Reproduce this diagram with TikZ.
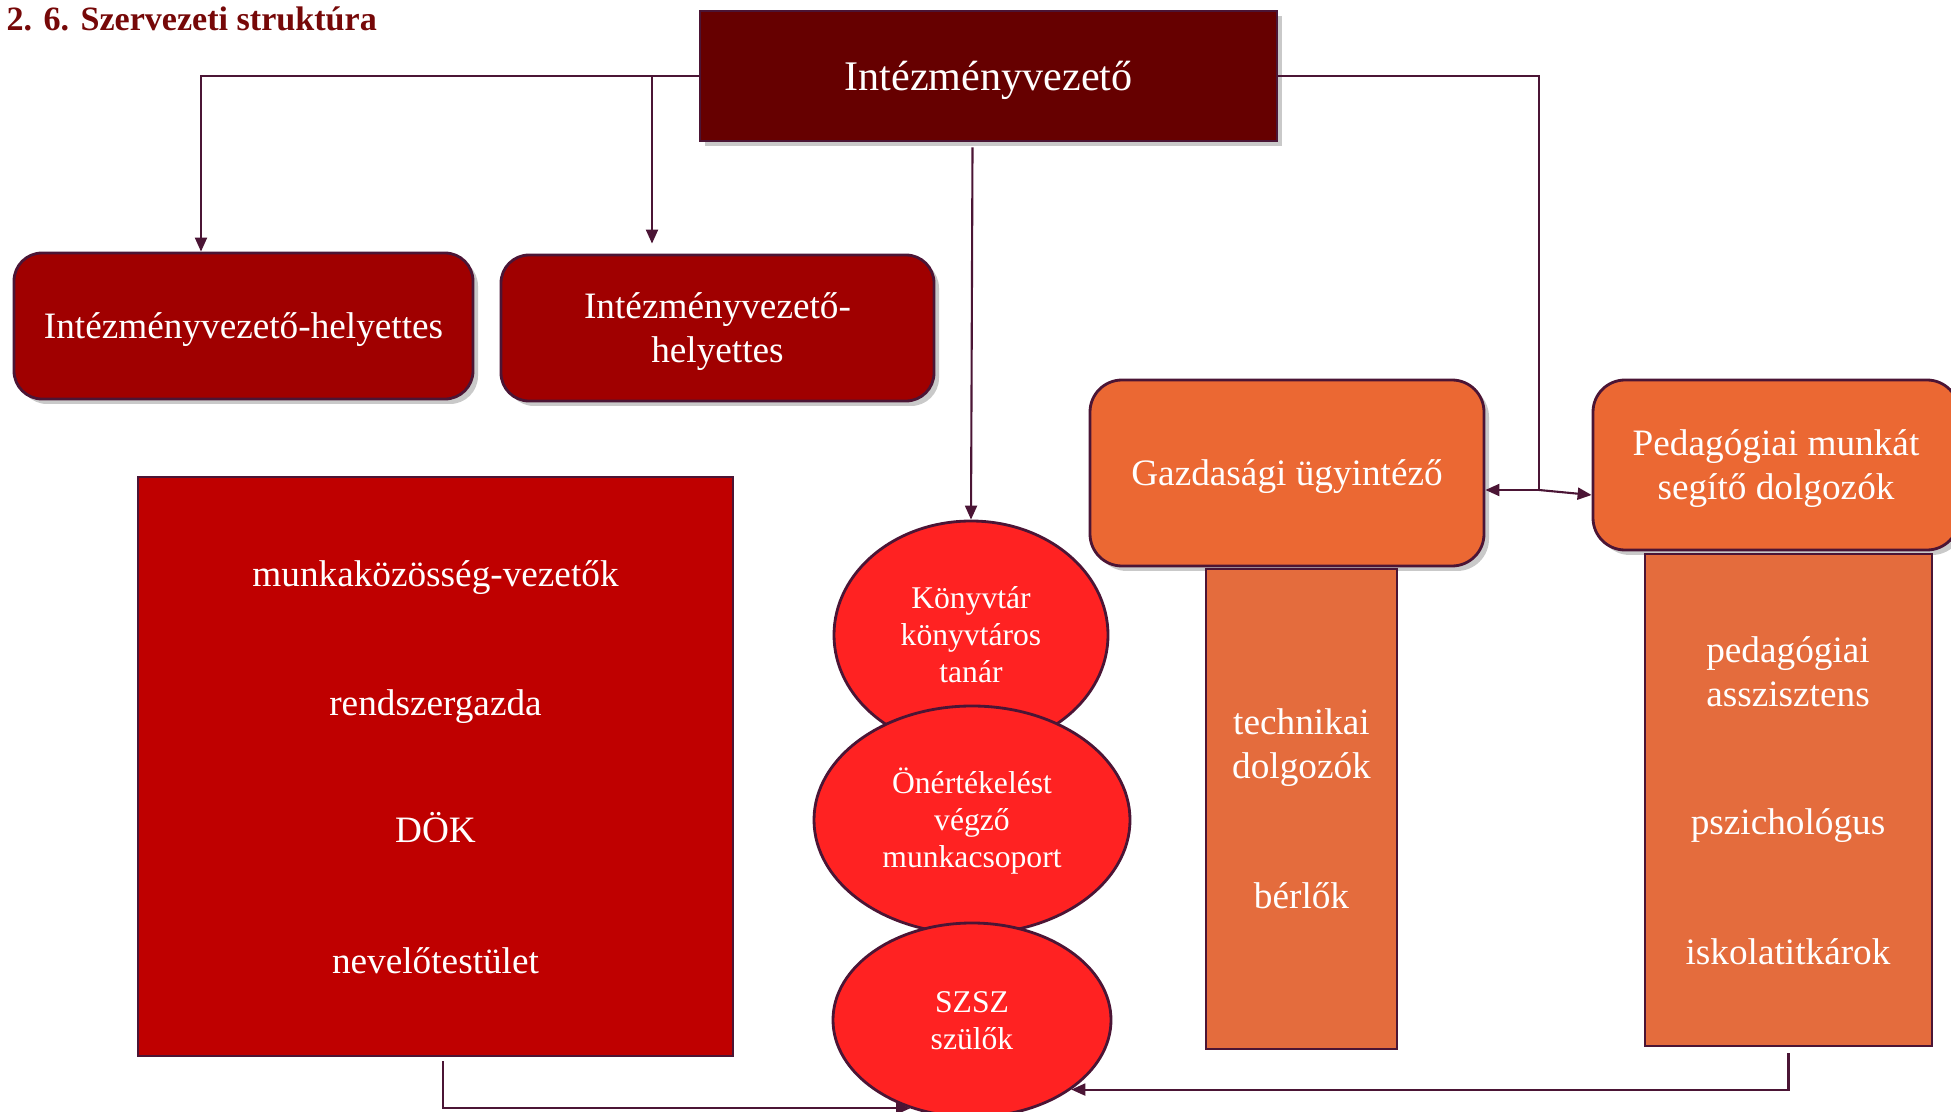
\documentclass[tikz,border=0pt]{standalone}
\usepackage{fontspec}
\setmainfont{Liberation Serif}
\usepackage{tikz}
\usetikzlibrary{arrows.meta,shapes.geometric,shadows}
\definecolor{linecol}{HTML}{4B1535}
\definecolor{headred}{HTML}{660000}
\definecolor{deputyred}{HTML}{A00000}
\definecolor{staffred}{HTML}{BF0000}
\definecolor{circred}{HTML}{FF2222}
\definecolor{orangehead}{HTML}{EB6833}
\definecolor{orangecol}{HTML}{E46C3D}
\definecolor{titlecol}{HTML}{760808}
\newcommand{\linestrut}{\rule[-0.216em]{0pt}{1.107em}}
\tikzset{boxshadow/.style={drop shadow={shadow xshift=0.05cm,shadow yshift=-0.05cm,opacity=0.3,fill=black!70}},
    plainbox/.style={draw=linecol,line width=0.8pt,text=white,inner sep=0pt,align=center},
    headbox/.style={plainbox,fill=headred,boxshadow,font=\fontsize{12}{14}\selectfont},
    deputybox/.style={plainbox,fill=deputyred,rounded corners=0.28cm,boxshadow,
        font=\fontsize{10.6}{12.4}\selectfont},
    orangebox/.style={plainbox,fill=orangehead,rounded corners=0.32cm,boxshadow,
        font=\fontsize{10.6}{12.4}\selectfont},
    listbox/.style={plainbox},
    circlebox/.style={plainbox,ellipse,fill=circred,font=\fontsize{9}{10.6}\selectfont},
    listitem/.style={text=white,align=center,inner sep=0pt,font=\fontsize{10.6}{12.4}\selectfont},
    conn/.style={draw=linecol,line width=0.6pt},
    arr/.style={conn,-{Triangle[length=0.14cm,width=0.12cm]}}}

\begin{document}
\begin{tikzpicture}
\useasboundingbox (0,0) rectangle (19.51,-11.12);
\node[anchor=west,inner sep=0pt,text=titlecol,font=\bfseries\fontsize{9.7}{11.6}\selectfont] (title) at (0.06,-0.19) {2. 6. Szervezeti struktúra};

\node[headbox,minimum width=5.77cm,minimum height=1.30cm] (boss) at (9.885,-0.76) {\linestrut Intézményvezető};
\node[deputybox,minimum width=4.59cm,minimum height=1.46cm] (deputyA) at (2.435,-3.26) {\linestrut Intézményvezető-helyettes};
\node[deputybox,minimum width=4.33cm,minimum height=1.46cm] (deputyB) at (7.175,-3.28) {\linestrut Intézményvezető-\\\linestrut helyettes};
\node[orangebox,minimum width=3.94cm,minimum height=1.86cm] (finance) at (12.87,-4.73) {\linestrut Gazdasági ügyintéző};
\node[orangebox,minimum width=3.66cm,minimum height=1.70cm] (support) at (17.76,-4.65) {\linestrut Pedagógiai munkát\\\linestrut segítő dolgozók};

\node[listbox,fill=staffred,minimum width=5.95cm,minimum height=5.79cm] (staff) at (4.355,-7.665) {};
\node[listitem] (leaders) at (4.355,-5.74) {\linestrut munkaközösség-vezetők};
\node[listitem] (sysadmin) at (4.355,-7.03) {\linestrut rendszergazda};
\node[listitem] (dok) at (4.355,-8.30) {\linestrut DÖK};
\node[listitem] (teachers) at (4.355,-9.61) {\linestrut nevelőtestület};

\node[listbox,fill=orangecol,minimum width=1.91cm,minimum height=4.80cm] (tech) at (13.015,-8.09) {};
\node[listitem] (techstaff) at (13.015,-7.44) {\linestrut technikai\\\linestrut dolgozók};
\node[listitem] (tenants) at (13.015,-8.96) {\linestrut bérlők};

\node[listbox,fill=orangecol,minimum width=2.87cm,minimum height=4.92cm] (assist) at (17.885,-8.00) {};
\node[listitem] (assistant) at (17.88,-6.72) {\linestrut pedagógiai\\\linestrut asszisztens};
\node[listitem] (psych) at (17.88,-8.22) {\linestrut pszichológus};
\node[listitem] (secretary) at (17.88,-9.52) {\linestrut iskolatitkárok};

\node[circlebox,minimum width=2.74cm,minimum height=2.28cm] (library) at (9.71,-6.35) {\linestrut Könyvtár\\\linestrut könyvtáros\\\linestrut tanár};
\node[circlebox,minimum width=3.16cm,minimum height=2.28cm] (selfeval) at (9.72,-8.20) {\linestrut Önértékelést\\\linestrut végző\\\linestrut munkacsoport};
\node[circlebox,minimum width=2.78cm,minimum height=1.94cm] (parents) at (9.72,-10.20) {\linestrut SZSZ\\\linestrut szülők};

\draw[arr] (boss.west) -| ([xshift=-0.425cm]deputyA.north);
\draw[arr] ([xshift=-0.655cm]deputyB.north |- boss.west) -- ([xshift=-0.655cm,yshift=0.1cm]deputyB.north);
\draw[arr] ([xshift=-0.16cm,yshift=-0.05cm]boss.south) -- (library.north);
\coordinate (fork) at (15.39,-4.90);
\draw[conn] (boss.east) -| (fork);
\draw[arr] (fork) -- (finance.east |- fork);
\draw[arr] (fork) -- ([yshift=-0.30cm]support.west);
\draw[arr] ([xshift=0.075cm,yshift=-0.04cm]staff.south) |- (parents.235);
\draw[arr] ([yshift=-0.06cm]assist.south) |- (parents.325);
\end{tikzpicture}
\end{document}
